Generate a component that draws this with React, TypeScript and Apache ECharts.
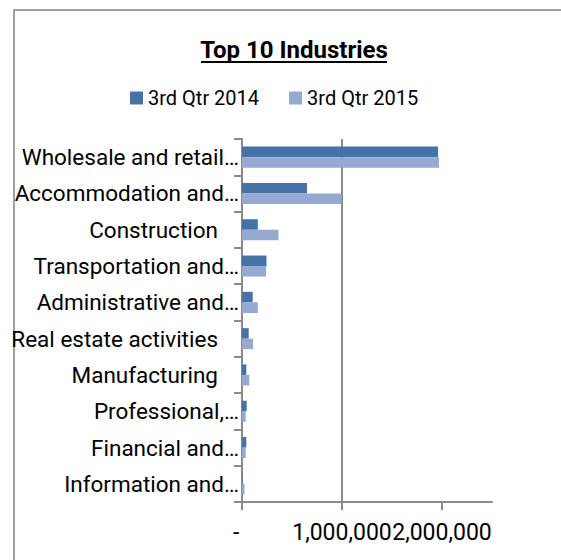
import React, { useEffect, useRef } from "react";
import * as echarts from "echarts";

const categories = [
  "Wholesale and retail…",
  "Accommodation and…",
  "Construction",
  "Transportation and…",
  "Administrative and…",
  "Real estate activities",
  "Manufacturing",
  "Professional,…",
  "Financial and…",
  "Information and…",
];
const seriesNames = ["3rd Qtr 2014", "3rd Qtr 2015"];
const q3_2014 = [1960000, 650000, 158000, 245000, 107000, 67000, 43000, 47000, 43000, 5000];
const q3_2015 = [1970000, 995000, 365000, 240000, 158000, 110000, 73000, 37000, 37000, 25000];
const xTickValues = [0, 1000000, 2000000];
const titleText = "Top 10 Industries";

const FONT = "Roboto, 'Liberation Sans', sans-serif";
const AXIS_GRAY = "#8a8a8a";

export default function App() {
  const ref = useRef<HTMLDivElement>(null);
  useEffect(() => {
    if (!ref.current) return;
    const chart = echarts.init(ref.current, undefined, { renderer: "svg" });
    chart.setOption({
      animation: false,
      backgroundColor: "#ffffff",
      textStyle: { fontFamily: FONT },
      graphic: [
        {
          type: "line",
          shape: { x1: 13, y1: 10, x2: 600, y2: 10 },
          style: { stroke: "#a0a0a0", lineWidth: 2 },
        },
        {
          type: "line",
          shape: { x1: 14, y1: 10, x2: 14, y2: 600 },
          style: { stroke: "#a0a0a0", lineWidth: 2 },
        },
        {
          type: "text",
          x: 294,
          y: 50,
          style: {
            text: titleText,
            fontFamily: FONT,
            fontSize: 24,
            fontWeight: "bold",
            fill: "#000",
            align: "center",
            verticalAlign: "middle",
          },
        },
        {
          type: "line",
          shape: { x1: 201, y1: 62, x2: 387, y2: 62 },
          style: { stroke: "#000", lineWidth: 2 },
        },
      ],
      legend: {
        data: seriesNames,
        left: 130,
        top: 88,
        padding: 0,
        itemWidth: 13,
        itemHeight: 13,
        itemGap: 30,
        icon: "rect",
        textStyle: { fontFamily: FONT, fontSize: 20, color: "#000" },
      },
      grid: { left: 242, right: 69, top: 139, bottom: 58, containLabel: false, outerBoundsMode: "none" },
      xAxis: {
        type: "value",
        min: 0,
        max: 2500000,
        interval: 1000000,
        axisLine: { show: true, lineStyle: { color: AXIS_GRAY, width: 2 } },
        axisTick: { show: true, length: 8, lineStyle: { color: AXIS_GRAY, width: 2 }, customValues: xTickValues },
        splitLine: { show: true, showMaxLine: false, lineStyle: { color: AXIS_GRAY, width: 2 } },
        axisLabel: {
          customValues: xTickValues,
          hideOverlap: false,
          margin: 19,
          fontFamily: FONT,
          fontSize: 23,
          color: "#000",
          formatter: (v: number) => (v === 0 ? "-  " : v >= 2500000 ? "" : v.toLocaleString("en-US")),
        },
      },
      yAxis: {
        type: "category",
        inverse: true,
        data: categories,
        axisLine: { show: true, lineStyle: { color: AXIS_GRAY, width: 2 } },
        axisTick: { show: true, length: 8, lineStyle: { color: AXIS_GRAY, width: 2 } },
        axisLabel: {
          margin: 3,
          interval: 0,
          fontFamily: FONT,
          fontSize: 22.5,
          color: "#000",
          formatter: (v: string) => (v.endsWith("…") ? v : `{p|${v}}`),
          rich: {
            p: { fontFamily: FONT, fontSize: 22.5, color: "#000", padding: [0, 21, 0, 0] },
          },
        },
      },
      series: [
        {
          name: seriesNames[0],
          type: "bar",
          data: q3_2014,
          barGap: "0%",
          barCategoryGap: "42%",
          itemStyle: { color: "#4572a7" },
        },
        {
          name: seriesNames[1],
          type: "bar",
          data: q3_2015,
          barGap: "0%",
          barCategoryGap: "42%",
          itemStyle: { color: "#95a9d3" },
        },
      ],
    });
    return () => chart.dispose();
  }, []);
  return (
    <div
      ref={ref}
      style={{ position: "fixed", left: 0, top: 0, width: 561, height: 560 }}
    />
  );
}
